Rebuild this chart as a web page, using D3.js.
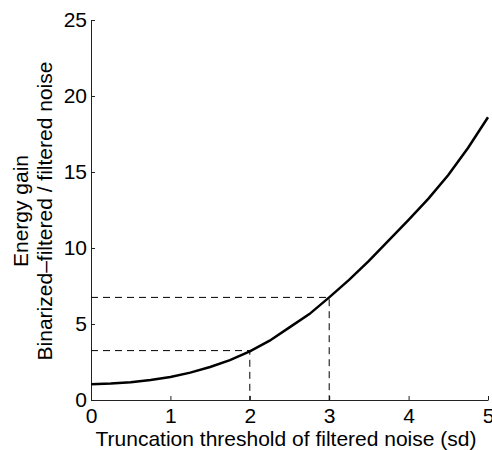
<!DOCTYPE html>
<html>
<head>
<meta charset="utf-8">
<script src="https://cdn.jsdelivr.net/npm/d3@7"></script>
<style>
  body { margin: 0; background: #fff; }
  text { font-family: "Liberation Sans", Arial, sans-serif; }
</style>
</head>
<body>
<div id="chart"></div>
<script>
// threshold (sd) and energy gain
const thresholds = [0, 0.25, 0.5, 0.75, 1, 1.25, 1.5, 1.75, 2, 2.25, 2.5, 2.75, 3, 3.25, 3.5, 3.75, 4, 4.25, 4.5, 4.75, 5]
const gains = [1.03, 1.08, 1.17, 1.32, 1.52, 1.8, 2.17, 2.62, 3.2, 3.9, 4.78, 5.65, 6.75, 7.9, 9.15, 10.5, 11.85, 13.25, 14.8, 16.6, 18.6]
const xTicks = [0, 1, 2, 3, 4, 5]
const yTicks = [0, 5, 10, 15, 20, 25]
// reference markers: [threshold, gain]
const markers = [[2, 3.25], [3, 6.75]]

const width = 492
const height = 450
const margin = {top: 20, right: 4, bottom: 50, left: 91}
const fontSize = 21

const svg = d3.select('#chart')
  .append('svg')
  .attr('width', width)
  .attr('height', height)

const xScale = d3.scaleLinear().domain([0, 5]).range([margin.left, width - margin.right])
const yScale = d3.scaleLinear().domain([0, 25]).range([height - margin.bottom, margin.top])

const xAxis = d3.axisBottom(xScale).tickValues(xTicks).tickFormat(d3.format('d'))
  .tickSizeInner(-4).tickSizeOuter(0).tickPadding(8)
const yAxis = d3.axisLeft(yScale).tickValues(yTicks).tickFormat(d3.format('d'))
  .tickSizeInner(-4).tickSizeOuter(0).tickPadding(4)

const gx = svg.append('g')
  .attr('transform', `translate(0,${yScale(0)})`)
  .call(xAxis)
gx.selectAll('text').attr('font-size', fontSize).attr('fill', '#000').attr('font-family', '"Liberation Sans", Arial, sans-serif')

const gy = svg.append('g')
  .attr('transform', `translate(${xScale(0)},0)`)
  .call(yAxis)
gy.selectAll('text').attr('font-size', fontSize).attr('fill', '#000').attr('font-family', '"Liberation Sans", Arial, sans-serif')

svg.selectAll('.domain, .tick line').attr('stroke', '#222').attr('stroke-width', 1)

// dashed guides
markers.forEach(m => {
  svg.append('path')
    .attr('d', `M${xScale(0)},${yScale(m[1])}H${xScale(m[0])}V${yScale(0)}`)
    .attr('fill', 'none')
    .attr('stroke', '#000')
    .attr('stroke-width', 1)
    .attr('stroke-dasharray', '7,5')
})

const line = d3.line()
  .x((d, i) => xScale(thresholds[i]))
  .y(d => yScale(d))

svg.append('path')
  .datum(gains)
  .attr('d', line)
  .attr('fill', 'none')
  .attr('stroke', '#000')
  .attr('stroke-width', 2.5)

svg.append('text')
  .attr('x', 286)
  .attr('y', 446)
  .attr('text-anchor', 'middle')
  .attr('font-size', fontSize)
  .text('Truncation threshold of filtered noise (sd)')

const ylab = svg.append('text')
  .attr('transform', `translate(0,211) rotate(-90)`)
  .attr('text-anchor', 'middle')
  .attr('font-size', fontSize)
ylab.append('tspan').attr('x', 0).attr('y', 28).text('Energy gain')
ylab.append('tspan').attr('x', 0).attr('y', 52).text('Binarized–filtered / filtered noise')
</script>
</body>
</html>
